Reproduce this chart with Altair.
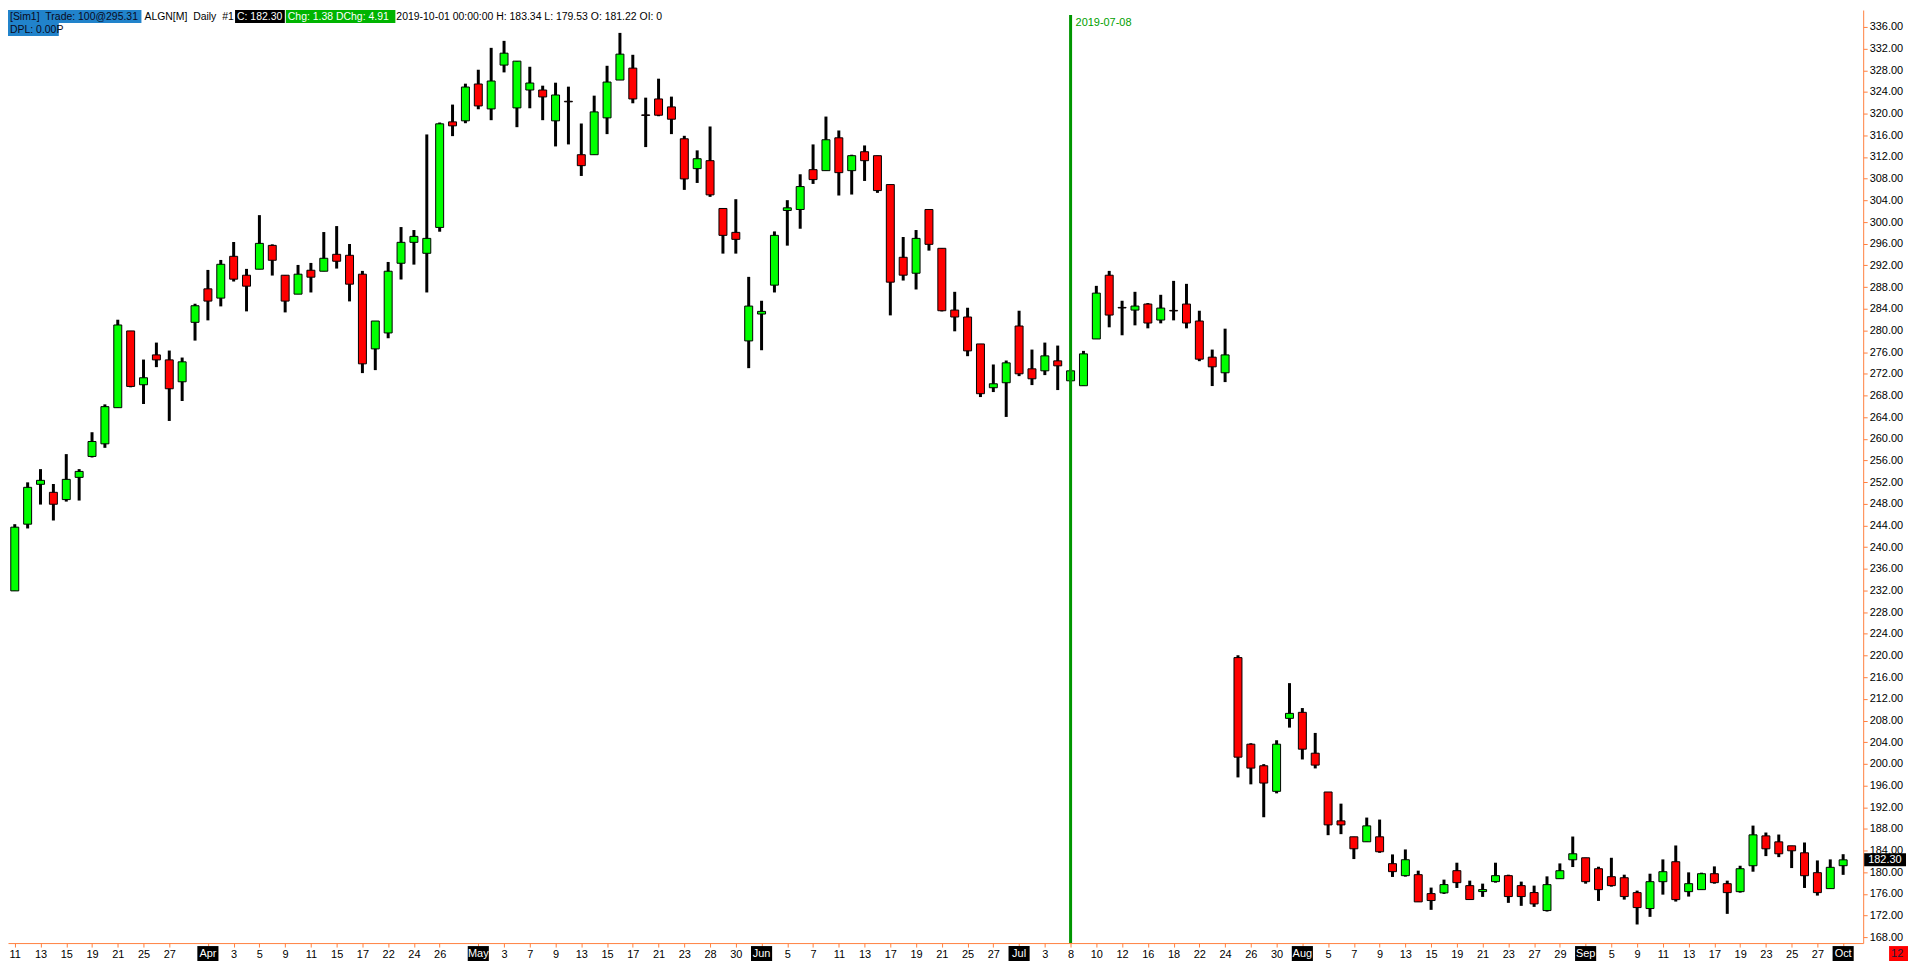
import json
import altair as alt
import pandas as pd

FONT = "Liberation Sans"
ORANGE = "#ff8040"
GREEN_UP = "#00ff00"
RED_DN = "#ff0000"

# ---------------- data ----------------
holidays = ["2019-04-19", "2019-05-27", "2019-07-04", "2019-09-02"]
dates = [d.strftime("%Y-%m-%d") for d in pd.bdate_range("2019-03-11", "2019-10-01")
         if d.strftime("%Y-%m-%d") not in holidays]

opens = [231.93, 244.24, 251.60, 250.12, 248.78, 252.88, 256.74, 259.07, 265.74, 279.90,
         269.97, 275.48, 274.56, 270.52, 281.49, 287.67, 285.96, 293.67, 290.18, 291.29,
         295.69, 290.18, 286.69, 291.10, 290.92, 294.04, 293.86, 290.37, 276.59, 279.53,
         292.39, 296.25, 294.23, 299.00, 318.48, 318.67, 325.47, 320.87, 328.96, 321.06,
         324.36, 324.36, 318.67, 322.28, 312.42, 312.42, 319.22, 326.20, 328.40, 319.77,
         322.71, 321.24, 315.36, 309.85, 311.32, 302.50, 298.09, 278.06, 283.02, 288.35,
         302.13, 302.31, 309.66, 309.48, 315.54, 309.48, 312.97, 312.24, 306.91, 293.49,
         290.55, 302.31, 295.15, 283.75, 282.47, 277.50, 269.42, 270.34, 280.81, 272.91,
         272.54, 274.38, 270.70, 269.79, 278.42, 290.18, 284.24, 283.75, 284.86, 281.91,
         283.69, 284.86, 281.73, 275.06, 272.18, 219.62, 203.64, 199.66, 194.94, 208.41,
         209.52, 201.98, 194.82, 189.49, 186.55, 185.63, 186.55, 181.59, 179.38, 179.56,
         176.07, 176.20, 180.30, 177.54, 176.44, 178.28, 179.38, 177.54, 176.26, 172.94,
         178.82, 182.31, 182.68, 180.66, 179.19, 179.00, 176.25, 173.31, 178.27, 181.95,
         176.43, 176.80, 179.74, 177.90, 176.43, 181.21, 186.72, 185.62, 184.89, 183.60,
         179.93, 176.99, 181.22]
highs = [244.24, 251.96, 254.40, 251.65, 257.17, 254.40, 261.21, 266.35, 281.97, 279.90,
         274.62, 277.75, 276.28, 274.99, 284.92, 291.16, 293.00, 296.31, 291.35, 301.27,
         295.88, 290.18, 292.08, 292.45, 298.15, 299.25, 295.94, 290.98, 281.73, 292.63,
         299.07, 298.52, 316.16, 318.36, 321.67, 325.53, 328.10, 332.14, 333.43, 329.69,
         328.65, 325.16, 325.71, 324.98, 318.18, 323.32, 328.83, 334.90, 330.86, 322.95,
         326.45, 323.14, 315.91, 313.22, 317.63, 302.50, 304.21, 289.88, 285.47, 298.27,
         304.03, 308.81, 314.32, 319.46, 316.89, 312.42, 314.13, 312.24, 306.91, 297.23,
         298.52, 302.31, 295.15, 287.12, 284.18, 277.50, 273.71, 274.44, 283.63, 276.46,
         277.75, 277.20, 272.80, 276.22, 288.22, 290.98, 285.47, 287.12, 285.04, 286.57,
         289.14, 288.59, 283.63, 276.46, 280.32, 220.05, 203.82, 199.96, 204.37, 214.91,
         210.31, 205.72, 194.82, 192.67, 186.55, 190.10, 189.73, 183.30, 184.22, 180.30,
         177.18, 178.65, 181.77, 178.46, 177.91, 181.77, 179.56, 178.28, 177.54, 179.25,
         181.64, 186.60, 182.68, 181.03, 182.68, 179.56, 176.62, 179.74, 182.38, 184.95,
         179.99, 179.93, 181.09, 178.46, 181.21, 188.62, 187.34, 186.97, 184.89, 185.50,
         182.19, 182.38, 183.34]
lows = [231.93, 243.45, 247.86, 244.92, 248.41, 248.60, 256.55, 258.33, 265.74, 269.50,
        266.42, 273.22, 263.29, 266.97, 278.12, 281.85, 284.43, 289.02, 283.51, 291.29,
        290.12, 283.32, 286.69, 287.00, 290.92, 291.41, 285.35, 272.12, 272.67, 278.55,
        289.39, 292.14, 287.00, 298.21, 315.85, 318.23, 320.81, 318.79, 327.61, 317.50,
        320.99, 318.79, 313.95, 314.32, 308.50, 312.42, 316.22, 326.20, 321.91, 313.83,
        319.52, 316.22, 305.93, 307.21, 304.64, 294.17, 294.17, 273.03, 276.34, 287.00,
        295.64, 298.76, 307.03, 309.48, 304.89, 305.07, 307.58, 305.38, 282.77, 289.20,
        287.55, 294.72, 283.50, 279.83, 275.24, 267.70, 268.62, 264.03, 271.56, 269.91,
        271.75, 268.99, 270.50, 269.79, 278.42, 280.57, 279.10, 280.93, 280.38, 281.30,
        281.85, 280.38, 274.32, 269.73, 270.46, 197.51, 196.23, 190.16, 194.57, 206.70,
        200.82, 199.17, 186.85, 187.04, 182.44, 185.63, 183.60, 179.14, 179.20, 174.54,
        173.07, 176.01, 177.11, 174.97, 175.46, 178.09, 174.36, 173.81, 173.62, 172.76,
        178.82, 180.97, 177.90, 174.72, 177.35, 174.96, 170.37, 171.78, 175.88, 174.60,
        175.52, 176.80, 177.90, 172.33, 176.25, 180.11, 182.99, 182.80, 180.78, 177.11,
        175.70, 176.99, 179.53]
closes = [243.69, 251.04, 252.33, 247.92, 252.51, 253.98, 259.50, 265.93, 281.00, 269.66,
          271.26, 274.56, 269.23, 274.20, 284.55, 285.41, 292.20, 289.45, 288.16, 296.06,
          292.94, 285.41, 290.37, 289.82, 293.31, 292.76, 288.53, 273.83, 281.73, 290.92,
          296.25, 297.35, 296.98, 318.12, 317.75, 324.91, 321.42, 326.02, 331.16, 329.69,
          325.65, 323.08, 323.44, 322.18, 310.40, 320.32, 325.83, 330.98, 322.71, 319.67,
          319.71, 318.97, 307.95, 311.68, 305.01, 297.54, 296.80, 284.49, 283.51, 297.54,
          302.62, 306.54, 307.83, 315.18, 309.11, 312.24, 311.32, 305.80, 288.90, 290.19,
          296.98, 295.88, 283.63, 282.47, 276.22, 268.32, 270.15, 274.01, 271.99, 271.07,
          275.30, 273.46, 272.54, 275.67, 286.88, 282.83, 284.14, 284.49, 281.36, 284.12,
          283.59, 281.36, 274.69, 273.28, 275.48, 201.25, 199.23, 196.47, 203.64, 209.33,
          202.72, 199.78, 188.75, 188.75, 184.34, 188.57, 183.79, 180.12, 182.32, 174.54,
          174.79, 177.73, 178.09, 174.97, 176.81, 179.38, 175.52, 175.52, 174.17, 177.72,
          180.29, 183.42, 178.27, 176.80, 177.54, 175.52, 173.49, 178.27, 180.11, 174.96,
          177.90, 179.74, 178.09, 176.25, 180.66, 186.91, 184.34, 183.42, 183.97, 179.37,
          176.25, 180.92, 182.30]

tick_idx = [0, 2, 4, 6, 8, 10, 12, 15, 17, 19, 21, 23, 25, 27, 29, 31, 33, 36, 38, 40,
            42, 44, 46, 48, 50, 52, 54, 56, 58, 60, 62, 64, 66, 68, 70, 72, 74, 76, 78, 80,
            82, 84, 86, 88, 90, 92, 94, 96, 98, 100, 102, 104, 106, 108, 110, 112, 114, 116,
            118, 120, 122, 124, 126, 128, 130, 132, 134, 136, 138, 140, 142]
tick_text = ["11", "13", "15", "19", "21", "25", "27", "Apr", "3", "5", "9", "11", "15", "17",
             "22", "24", "26", "May", "3", "7", "9", "13", "15", "17", "21", "23", "28", "30",
             "Jun", "5", "7", "11", "13", "17", "19", "21", "25", "27", "Jul", "3", "8", "10",
             "12", "16", "18", "22", "24", "26", "30", "Aug", "5", "7", "9", "13", "15", "19",
             "21", "23", "27", "29", "Sep", "5", "9", "11", "13", "17", "19", "23", "25", "27",
             "Oct"]
month_names = ["Apr", "May", "Jun", "Jul", "Aug", "Sep", "Oct"]

y_ticks = list(range(168, 337, 4))

event_idx = [82]
event_text = ["2019-07-08"]

header_row1 = ["[Sim1]  Trade: 100@295.31", "ALGN[M]  Daily  #1", "C: 182.30",
               "Chg: 1.38 DChg: 4.91",
               "2019-10-01 00:00:00 H: 183.34 L: 179.53 O: 181.22 OI: 0"]
header_row2 = ["DPL: 0.00P"]
corner_text = ["12"]

# ---------------- tables ----------------
df = pd.DataFrame({"idx": list(range(len(dates))), "date": dates, "open": opens,
                   "high": highs, "low": lows, "close": closes})

month_df = pd.DataFrame({"idx": [i for i, t in zip(tick_idx, tick_text) if t in month_names],
                         "label": [t for t in tick_text if t in month_names]})

label_arr = [""] * len(dates)
for i, t in zip(tick_idx, tick_text):
    if t not in month_names:
        label_arr[i] = t

event_df = pd.DataFrame({"idx": event_idx, "label": event_text})
last_df = pd.DataFrame({"price": [closes[-1]], "label": [f"{closes[-1]:.2f}"]})

# ---------------- scales / axes ----------------
xs = alt.Scale(domain=[-0.1385, 143.17], nice=False, zero=False)
ys = alt.Scale(domain=[166.94, 339.124], nice=False, zero=False)

xaxis = alt.Axis(values=tick_idx, labelExpr=json.dumps(label_arr) + "[datum.value]",
                 labelOverlap=False, labelFlush=True, domainColor=ORANGE, tickColor=ORANGE,
                 tickSize=4, labelFontSize=11, labelFont=FONT, labelColor="black",
                 labelPadding=1, grid=False, title=None)
yaxis = alt.Axis(orient="right", values=y_ticks, format=".2f", domainColor=ORANGE,
                 tickColor=ORANGE, tickSize=4, labelFontSize=11, labelFont=FONT,
                 labelColor="black", labelPadding=2, grid=False, title=None,
                 labelOverlap=False, labelFlush=False)


def X(field):
    return alt.X(field, scale=xs, axis=xaxis, title=None)


def Y(field):
    return alt.Y(field, scale=ys, axis=yaxis, title=None)


base = alt.Chart(df)

wicks = base.mark_rule(color="black", strokeWidth=3).encode(
    x=X("idx:Q"), y=Y("low:Q"), y2="high:Q")

bodies = base.mark_bar(size=8, stroke="black", strokeWidth=1).encode(
    x=X("idx:Q"), y=Y("open:Q"), y2="close:Q",
    fill=alt.condition("datum.close >= datum.open", alt.value(GREEN_UP), alt.value(RED_DN)),
    tooltip=["date:N", "open:Q", "high:Q", "low:Q", "close:Q"])

event_line = alt.Chart(event_df).mark_rule(color="#009600", strokeWidth=3).encode(
    x=X("idx:Q"), y=alt.value(5), y2=alt.value(937))
event_label = alt.Chart(event_df).mark_text(
    align="left", baseline="middle", dx=5, fontSize=11, font=FONT, color="#00a000").encode(
    x=X("idx:Q"), y=alt.value(13), text="label:N")

month_box = alt.Chart(month_df).transform_calculate(
    x0="datum.idx - 0.82", x1="datum.idx + 0.82").mark_rect(color="black").encode(
    x=X("x0:Q"), x2="x1:Q", y=alt.value(940), y2=alt.value(955))
month_lbl = alt.Chart(month_df).mark_text(
    color="white", fontSize=11, font=FONT, baseline="middle", align="center").encode(
    x=X("idx:Q"), y=alt.value(948), text="label:N")

price_box = alt.Chart(last_df).transform_calculate(
    lo="datum.price - 1.2", hi="datum.price + 1.2").mark_rect(color="black").encode(
    x=alt.value(1864), x2=alt.value(1906), y=Y("lo:Q"), y2="hi:Q")
price_lbl = alt.Chart(last_df).mark_text(
    color="white", fontSize=11, font=FONT, baseline="middle", align="left").encode(
    x=alt.value(1868), y=Y("price:Q"), text="label:N")


def keep_spaces(s):
    # keep the double spaces of the original header (SVG collapses plain ones)
    return s.replace("  ", " \u00a0")


def header_box(text, x0, x1, y0, y1, bg, fg, size=10.5):
    d = pd.DataFrame({"t": [keep_spaces(text)]})
    parts = []
    if bg is not None:
        parts.append(alt.Chart(d).mark_rect(color=bg).encode(
            x=alt.value(x0), x2=alt.value(x1), y=alt.value(y0), y2=alt.value(y1)))
    parts.append(alt.Chart(d).mark_text(
        align="left", baseline="middle", fontSize=size, font=FONT, color=fg).encode(
        x=alt.value(x0 + 2), y=alt.value((y0 + y1) / 2 + 0.5), text="t:N"))
    return parts


header = []
header += header_box(header_row1[0], 0, 134, 0, 13, "#2183cb", "#0a0a20")
header += header_box(header_row1[1], 135, 227, 0, 13, None, "black")
header += header_box(header_row1[2], 228, 278, 0, 13, "black", "white")
header += header_box(header_row1[3], 279, 389, 0, 13, "#00b400", "white")
header += header_box(header_row1[4], 388, 690, 0, 13, None, "black")
header += header_box(header_row2[0], 0, 51, 13, 26, "#2183cb", "#0a0a20")

corner = header_box(corner_text[0], 1889, 1908, 940, 955, "#ff0000", "#1a1a3a", size=11)

chart = alt.layer(
    wicks, bodies, event_line, event_label, month_box, month_lbl,
    price_box, price_lbl, *header, *corner
).properties(
    width=1863, height=937,
    padding={"left": 0, "top": 0, "right": 45, "bottom": 18},
    autosize=alt.AutoSizeParams(type="none"),
    background="white",
).configure_view(stroke=None)

chart.save("out.html", embed_options={"renderer": "svg", "actions": False})
